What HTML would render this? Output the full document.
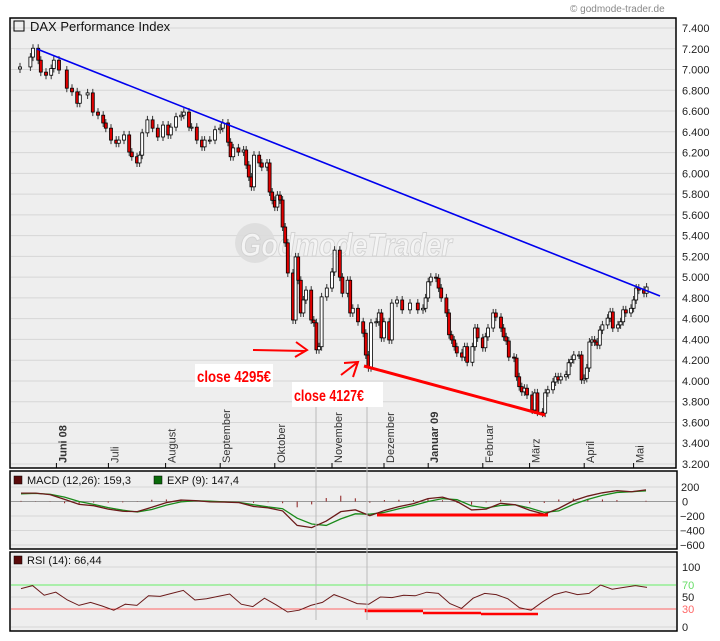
<!DOCTYPE html>
<html><head><meta charset="utf-8"><style>
body{margin:0;background:#fff;}
svg{display:block;font-family:"Liberation Sans",sans-serif;}
</style></head><body>
<svg id="chart" width="720" height="641" viewBox="0 0 720 641">
<text x="570" y="12" font-size="10" fill="#888">© godmode-trader.de</text>
<rect x="10" y="18" width="666" height="450" fill="#eeeeee" stroke="#000" stroke-width="1.5"/>
<rect x="10" y="471" width="667" height="78" fill="#eeeeee" stroke="#000" stroke-width="1.5"/>
<rect x="10" y="552" width="667" height="79" fill="#eeeeee" stroke="#000" stroke-width="1.5"/>
<g id="grid"></g>
<g opacity="0.85">
<circle cx="255" cy="243" r="20" fill="#dcdcdc"/>
<text x="240" y="256" font-size="32" font-weight="bold" font-style="italic" fill="#f6f6f6" stroke="#cfcfcf" stroke-width="1" textLength="212" lengthAdjust="spacingAndGlyphs">GodmodeTrader</text>
</g>
<g id="marks"></g>
<rect x="14" y="21" width="10" height="10" fill="none" stroke="#000"/>
<text x="30" y="31" font-size="13" fill="#111">DAX Performance Index</text>
<rect x="14" y="476" width="8" height="8" fill="#5a0a0a" stroke="#000" stroke-width="0.5"/>
<text x="27" y="484" font-size="11" fill="#111">MACD (12,26): 159,3</text>
<rect x="154" y="476" width="8" height="8" fill="#0a6a0a" stroke="#000" stroke-width="0.5"/>
<text x="167" y="484" font-size="11" fill="#111">EXP (9): 147,4</text>
<rect x="14" y="556" width="8" height="8" fill="#5a0a0a" stroke="#000" stroke-width="0.5"/>
<text x="27" y="564" font-size="11" fill="#111">RSI (14): 66,44</text>
<g>
<line x1="37" y1="49" x2="660" y2="296" stroke="#0000ee" stroke-width="1.6"/>
<line x1="364" y1="366" x2="545" y2="415" stroke="#ff0000" stroke-width="3"/>
<line x1="377" y1="515" x2="548" y2="515" stroke="#ff0000" stroke-width="3"/>
<path d="M366 609 L366 611 L423 611 M423 613 L481 613 M481 614 L538 614" stroke="#ff0000" stroke-width="2.5" fill="none"/>
<line x1="316" y1="385" x2="316" y2="620" stroke="#bbb" stroke-width="1"/>
<line x1="367" y1="385" x2="367" y2="620" stroke="#bbb" stroke-width="1"/>
<path d="M253 350 L305 351 M296 342 L307 350 L295 357" stroke="#ff0000" stroke-width="2" fill="none"/>
<path d="M341 375 L358 362 M344 363 L358 362 L353 377" stroke="#ff0000" stroke-width="2" fill="none"/>
<rect x="195" y="364" width="78" height="23" fill="#fff"/>
<text x="197" y="382" font-size="16" font-weight="bold" fill="#ff0000" textLength="74" lengthAdjust="spacingAndGlyphs">close 4295€</text>
<rect x="292" y="382" width="91" height="25" fill="#fff"/>
<text x="294" y="401" font-size="16" font-weight="bold" fill="#ff0000" textLength="70" lengthAdjust="spacingAndGlyphs">close 4127€</text>
</g>
</svg>
<script>
// ---- price data ----
const closes = [7025,7120,7205,7090,6975,6945,7010,7090,6995,6820,6785,6675,6755,6775,6590,6560,6485,6435,6320,6290,6320,6370,6205,6160,6100,6175,6390,6515,6435,6350,6465,6370,6445,6545,6560,6590,6445,6445,6320,6255,6320,6320,6420,6435,6485,6300,6160,6245,6205,6225,6080,5965,5870,6175,6100,6060,6100,5820,5740,5675,5790,
5743,5483,5330,5040,4587,5195,4970,4655,4780,4875,4587,4560,4300,4330,4810,4895,5050,5260,5000,4845,4970,4655,4700,4570,4460,4250,4127,4560,4570,4655,4415,4570,4395,4750,4780,4685,4750,4685,4700,
4800,4955,5000,4990,4895,4800,4655,4445,4395,4330,4270,4230,4330,4180,4330,4510,4415,4320,4425,4510,4655,4615,4510,4425,4385,4230,4220,4040,3945,3895,3930,3865,3720,3885,3700,3690,3885,3915,3990,4040,4010,4040,4060,4175,4205,4250,4250,4010,4025,4125,4375,4395,4375,4345,4490,4540,4605,4665,4510,4540,4570,4685,4655,4700,4780,4895,4875,4845,4905];
const tradingDays = [0,4,5,7,8,10,12,13,15,18,20,22,23,26,28,30,32,33,35,37,38,40,42,43,45,46,47,49,51,53,55,57,58,60,62,63,65,66,68,70,71,73,75,77,78,80,81,82,84,86,87,88,89,90,92,93,95,96,97,98,99,
100,101,102,103,105,106,107,108,109,110,112,113,114,115,116,118,120,121,123,124,126,127,128,130,132,133,134,135,137,138,139,140,142,143,145,147,150,153,155,
156,157,158,160,161,162,164,165,166,167,168,170,171,172,174,175,176,178,179,180,182,183,185,186,187,188,190,191,192,193,194,195,197,198,199,201,202,203,205,206,207,208,210,211,212,213,215,216,217,218,219,220,221,222,223,224,226,227,228,230,231,232,233,235,236,237,238,240,241];
const priceTicks = [7400,7200,7000,6800,6600,6400,6200,6000,5800,5600,5400,5200,5000,4800,4600,4400,4200,4000,3800,3600,3400,3200];
const months = ["Juni 08","Juli","August","September","Oktober","November","Dezember","Januar 09","Februar","März","April","Mai"];
const monthDays = [14,34,56,77,98,120,140,157,178,196,217,236];
// ---- MACD data ----
const macdVals = [116,116,95,30,-40,-58,-105,-135,-140,-80,-15,20,12,-5,-8,-15,-68,-88,-130,-330,-360,-270,-140,-115,-196,-125,-70,-30,40,60,0,-116,-105,-25,-45,-120,-175,-95,10,75,120,150,135,160];
const signalVals = [105,112,100,60,0,-40,-85,-120,-145,-110,-50,-5,10,5,-5,-12,-45,-75,-100,-230,-310,-330,-240,-170,-175,-150,-100,-55,0,40,25,-60,-90,-55,-45,-90,-150,-130,-40,30,85,125,135,147];
const macdTicks = [200,0,-200,-400,-600];
// ---- RSI data ----
const rsiVals = [64,69,53,58,45,36,41,35,28,38,36,52,51,56,61,45,47,51,55,38,34,48,37,25,28,36,41,54,47,39,38,50,49,53,52,58,56,39,31,48,56,54,47,32,28,42,54,59,54,56,70,63,66,69,66];
const rsiTicks = [100,70,50,30,0];

const NS="http://www.w3.org/2000/svg";
function mk(tag, attrs, parent){const e=document.createElementNS(NS,tag);for(const k in attrs)e.setAttribute(k,attrs[k]);parent.appendChild(e);return e;}
const xDay = d => 20 + d*2.6;
const yP = v => 28 + (7400 - v)*0.10381;
const yM = v => 501.5 - v*0.0725;
const yR = v => 627 - v*0.6;
const grid=document.getElementById('grid'), marks=document.getElementById('marks');

priceTicks.forEach(t=>{
  const l=mk('line',{x1:11,x2:675,y1:yP(t),y2:yP(t),stroke:'#d6d6d6','stroke-width':1},grid);
  
  
  const s=String(t); const lab=mk('text',{x:682,y:yP(t)+4,'font-size':11,fill:'#222'},grid);
  lab.textContent=s[0]+'.'+s.slice(1);
  
  
});
months.forEach((m,i)=>{
  const x=xDay(monthDays[i]);
  const t=mk('line',{x1:x,x2:x,y1:463,y2:468,stroke:'#000'},grid);
  
  
  const lab=mk('text',{x:0,y:0,'font-size':11,fill:'#333','font-weight':(m.indexOf('08')>0||m.indexOf('09')>0)?'bold':'normal',transform:`translate(${x+10},463) rotate(-90)`},grid);
  lab.textContent=m;
  
  
});
macdTicks.forEach(t=>{
  const l=mk('line',{x1:11,x2:676,y1:yM(t),y2:yM(t),stroke:t===0?'#999':'#d6d6d6','stroke-width':1},grid);
  
  
  const lab=mk('text',{x:t<0?680:(t===0?682:681),y:yM(t)+4,'font-size':11,fill:'#222'},grid);
  lab.textContent=t<0?'−'+(-t):String(t);
  
  
});
rsiTicks.forEach(t=>{
  const col=t===70?'#66ee66':t===30?'#ff6666':'#d6d6d6';
  const l=mk('line',{x1:11,x2:676,y1:yR(t),y2:yR(t),stroke:col,'stroke-width':1},grid);
  
  
  const lab=mk('text',{x:682,y:yR(t)+4,'font-size':11,fill:t===70?'#66dd66':t===30?'#ff6666':'#222'},grid);
  lab.textContent=String(t);
  
  
});

// candles
const n=Math.min(closes.length,tradingDays.length);
for(let i=0;i<n;i++){
  const c=closes[i], o=i>0?closes[i-1]:c-20, x=xDay(tradingDays[i]);
  const top=yP(Math.max(o,c)), bot=yP(Math.min(o,c));
  const w=mk('line',{x1:x,x2:x,y1:top-4,y2:bot+4,stroke:'#333','stroke-width':1},marks);
  
  
  const b=mk('rect',{x:x-1.5,y:top,width:3,height:Math.max(1,bot-top),fill:c<o?'#e00000':'#ffffff',stroke:'#000','stroke-width':0.8},marks);
  
  
}
// MACD
const xM=i=>21+i*(625/(macdVals.length-1));
macdVals.forEach((v,i)=>{
  const h=v-signalVals[i];
  const bar=mk('line',{x1:xM(i),x2:xM(i),y1:yM(0),y2:yM(h*0.8),stroke:'#8b1a1a','stroke-width':1},marks);
  
  
});
const sig=mk('polyline',{points:signalVals.map((v,i)=>xM(i)+','+yM(v)).join(' '),fill:'none',stroke:'#1a8a1a','stroke-width':1.3},marks);


const mac=mk('polyline',{points:macdVals.map((v,i)=>xM(i)+','+yM(v)).join(' '),fill:'none',stroke:'#6b1a1a','stroke-width':1.3},marks);


// RSI
const xR=i=>21+i*(626/(rsiVals.length-1));
const rsi=mk('polyline',{points:rsiVals.map((v,i)=>xR(i)+','+yR(v)).join(' '),fill:'none',stroke:'#6b1a1a','stroke-width':1},marks);


</script>
</body></html>
